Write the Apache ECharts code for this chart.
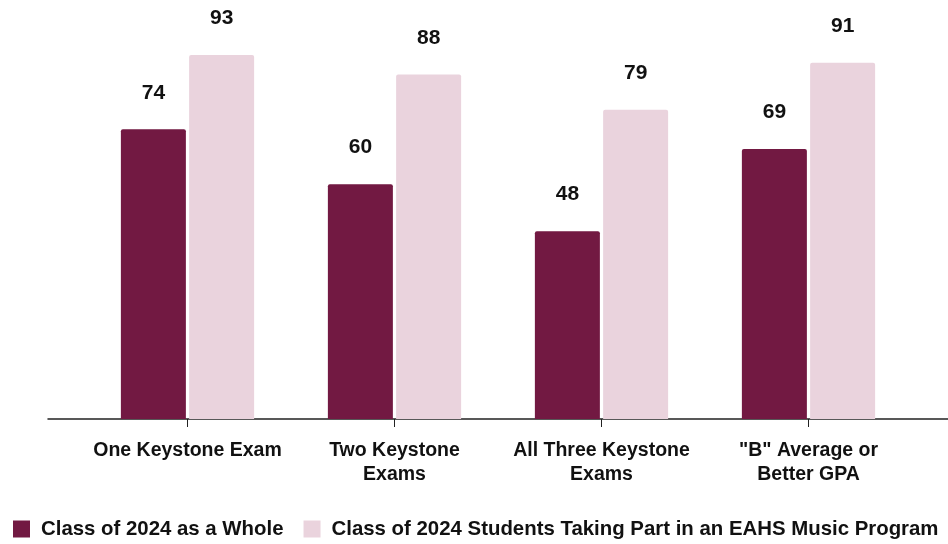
<!DOCTYPE html>
<html>
<head>
<meta charset="utf-8">
<script src="https://cdn.jsdelivr.net/npm/echarts@6/dist/echarts.min.js"></script>
<style>
  html, body { margin: 0; padding: 0; background: #fff; }
  #box { width: 948px; height: 544px; }
</style>
</head>
<body>
<div id="box"></div>
<script>
// categories and values
var categories = ['One Keystone Exam', 'Two Keystone\nExams', 'All Three Keystone\nExams', '"B" Average or\nBetter GPA'];
var seriesNames = ['Class of 2024 as a Whole', 'Class of 2024 Students Taking Part in an EAHS Music Program'];
var wholeClass = [74, 60, 48, 69];
var musicProgram = [93, 88, 79, 91];

var FONT = '"Liberation Sans", Arial, sans-serif';

var labelStyle = {
  show: true,
  position: 'top',
  distance: 26,
  color: '#111',
  fontFamily: FONT,
  fontWeight: 'bold',
  fontSize: 21
};

var myChart = echarts.init(document.getElementById('box'));
var option = {
  animation: false,
  color: ['#721942', '#ead3dd'],
  legend: {
    left: 8,
    bottom: 0,
    itemWidth: 17,
    itemHeight: 17,
    itemGap: 20,
    icon: 'rect',
    textStyle: { fontFamily: FONT, fontWeight: 'bold', fontSize: 20.4, color: '#111', padding: [0, 0, 0, 6] }
  },
  grid: [
    { left: 84, right: 36, top: 27.6, bottom: 125 },
    // wider grid just for the long baseline
    { left: 48, right: 0, top: 27.6, bottom: 125 }
  ],
  xAxis: [
    {
      type: 'category',
      data: categories,
      gridIndex: 0,
      axisLine: { show: false },
      axisTick: { show: true, alignWithLabel: true, length: 8, lineStyle: { color: '#222' } },
      axisLabel: {
        interval: 0,
        margin: 20,
        color: '#111',
        fontFamily: FONT,
        fontWeight: 'bold',
        fontSize: 19.5,
        lineHeight: 24
      }
    },
    {
      type: 'value',
      gridIndex: 1,
      min: 0,
      max: 1,
      axisLine: { show: true, lineStyle: { color: '#222', width: 1.5 } },
      axisTick: { show: false },
      axisLabel: { show: false },
      splitLine: { show: false }
    }
  ],
  yAxis: [
    { type: 'value', gridIndex: 0, min: 0, max: 100, show: false },
    { type: 'value', gridIndex: 1, min: 0, max: 100, show: false }
  ],
  series: [
    {
      name: seriesNames[0],
      type: 'bar',
      data: wholeClass,
      barWidth: 65,
      barGap: '5%',
      itemStyle: { borderRadius: [2, 2, 0, 0] },
      label: labelStyle
    },
    {
      name: seriesNames[1],
      type: 'bar',
      data: musicProgram,
      barWidth: 65,
      barGap: '5%',
      itemStyle: { borderRadius: [2, 2, 0, 0] },
      label: labelStyle
    }
  ]
};
myChart.setOption(option);
</script>
</body>
</html>
